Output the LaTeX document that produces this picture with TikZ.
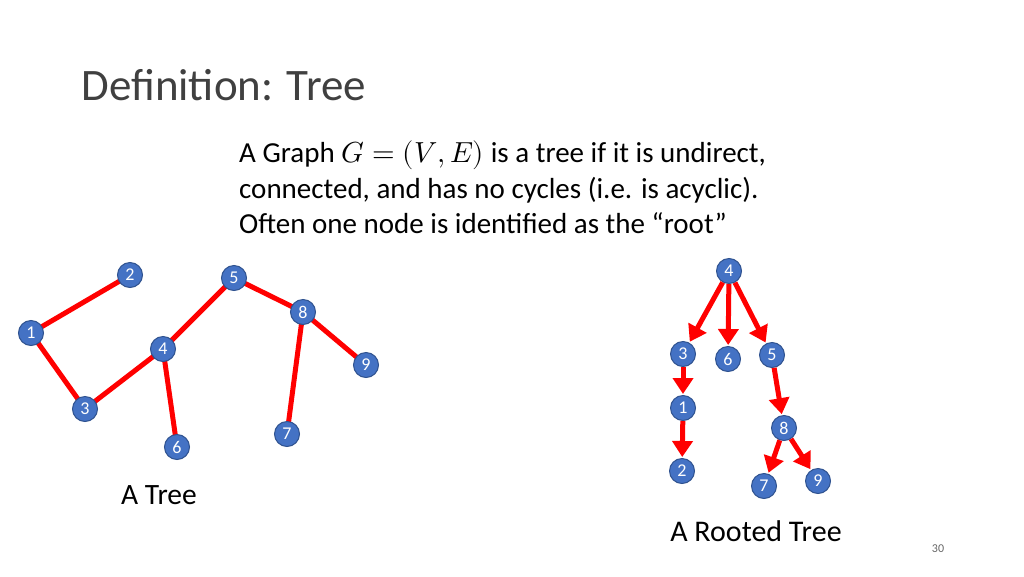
\documentclass[tikz,border=0pt]{standalone}
\usepackage{fontspec}
\setmainfont{Carlito}
\usepackage{unicode-math}
\setmathfont{Latin Modern Math}
\usetikzlibrary{arrows.meta}
\definecolor{nodeblue}{RGB}{68,114,196}
\definecolor{nodeedge}{RGB}{47,82,143}
\tikzset{
  vert/.style={circle, fill=nodeblue, draw=nodeedge, line width=1pt, minimum size=25pt, inner sep=0pt, text=white, font=\fontsize{18}{18}\selectfont},
  link/.style={red, line width=5pt},
  dlink/.style={red, line width=5pt, -{Triangle[length=16pt,width=20pt]}, shorten >=1pt}
}
\begin{document}
\begin{tikzpicture}[x=1pt, y=-1pt]
  \useasboundingbox (0,0) rectangle (1024,576);

  \node[anchor=base west, font=\fontsize{45}{45}\selectfont, text=black!75] (title) at (78,100) {Definition: Tree};
  \node[anchor=north west, align=left, font=\fontsize{29}{35.5}\selectfont, inner sep=0pt] (def) at (239,141)
    {A Graph $G=(V,E)$ is a tree if it is undirect,\\connected, and has no cycles (i.e. is acyclic).\\Often one node is identified as the ``root''};

  % unrooted tree
  \foreach \n/\x/\y in {2/130/275, 5/234/278, 8/303/312, 1/31/333, 4/163/349, 9/366/365, 3/85/409, 7/287/434, 6/177/447}
    \coordinate (p\n) at (\x,\y);
  \foreach \u/\v in {1/2, 1/3, 3/4, 4/5, 4/6, 5/8, 8/9, 8/7}
    \draw[link] (p\u) -- (p\v);
  \foreach \n in {1,...,9}
    \node[vert] (a\n) at (p\n) {\n};

  % rooted tree
  \foreach \n/\x/\y in {4/729/271, 3/683/354, 6/728/359, 5/772/355, 1/683/408, 8/784/428, 2/682/471, 7/764/486, 9/818/481}
    \node[vert] (b\n) at (\x,\y) {\n};
  \foreach \u/\v in {4/3, 4/6, 4/5, 3/1, 1/2, 5/8, 8/7, 8/9}
    \draw[dlink] (b\u) -- (b\v);

  \node[font=\fontsize{29.5}{29.5}\selectfont] (lbla) at (159,495) {A Tree};
  \node[font=\fontsize{30}{30}\selectfont] (lblb) at (756,531) {A Rooted Tree};
  \node[font=\fontsize{12}{12}\selectfont, text=black!60] (page) at (938,549) {30};
\end{tikzpicture}
\end{document}
